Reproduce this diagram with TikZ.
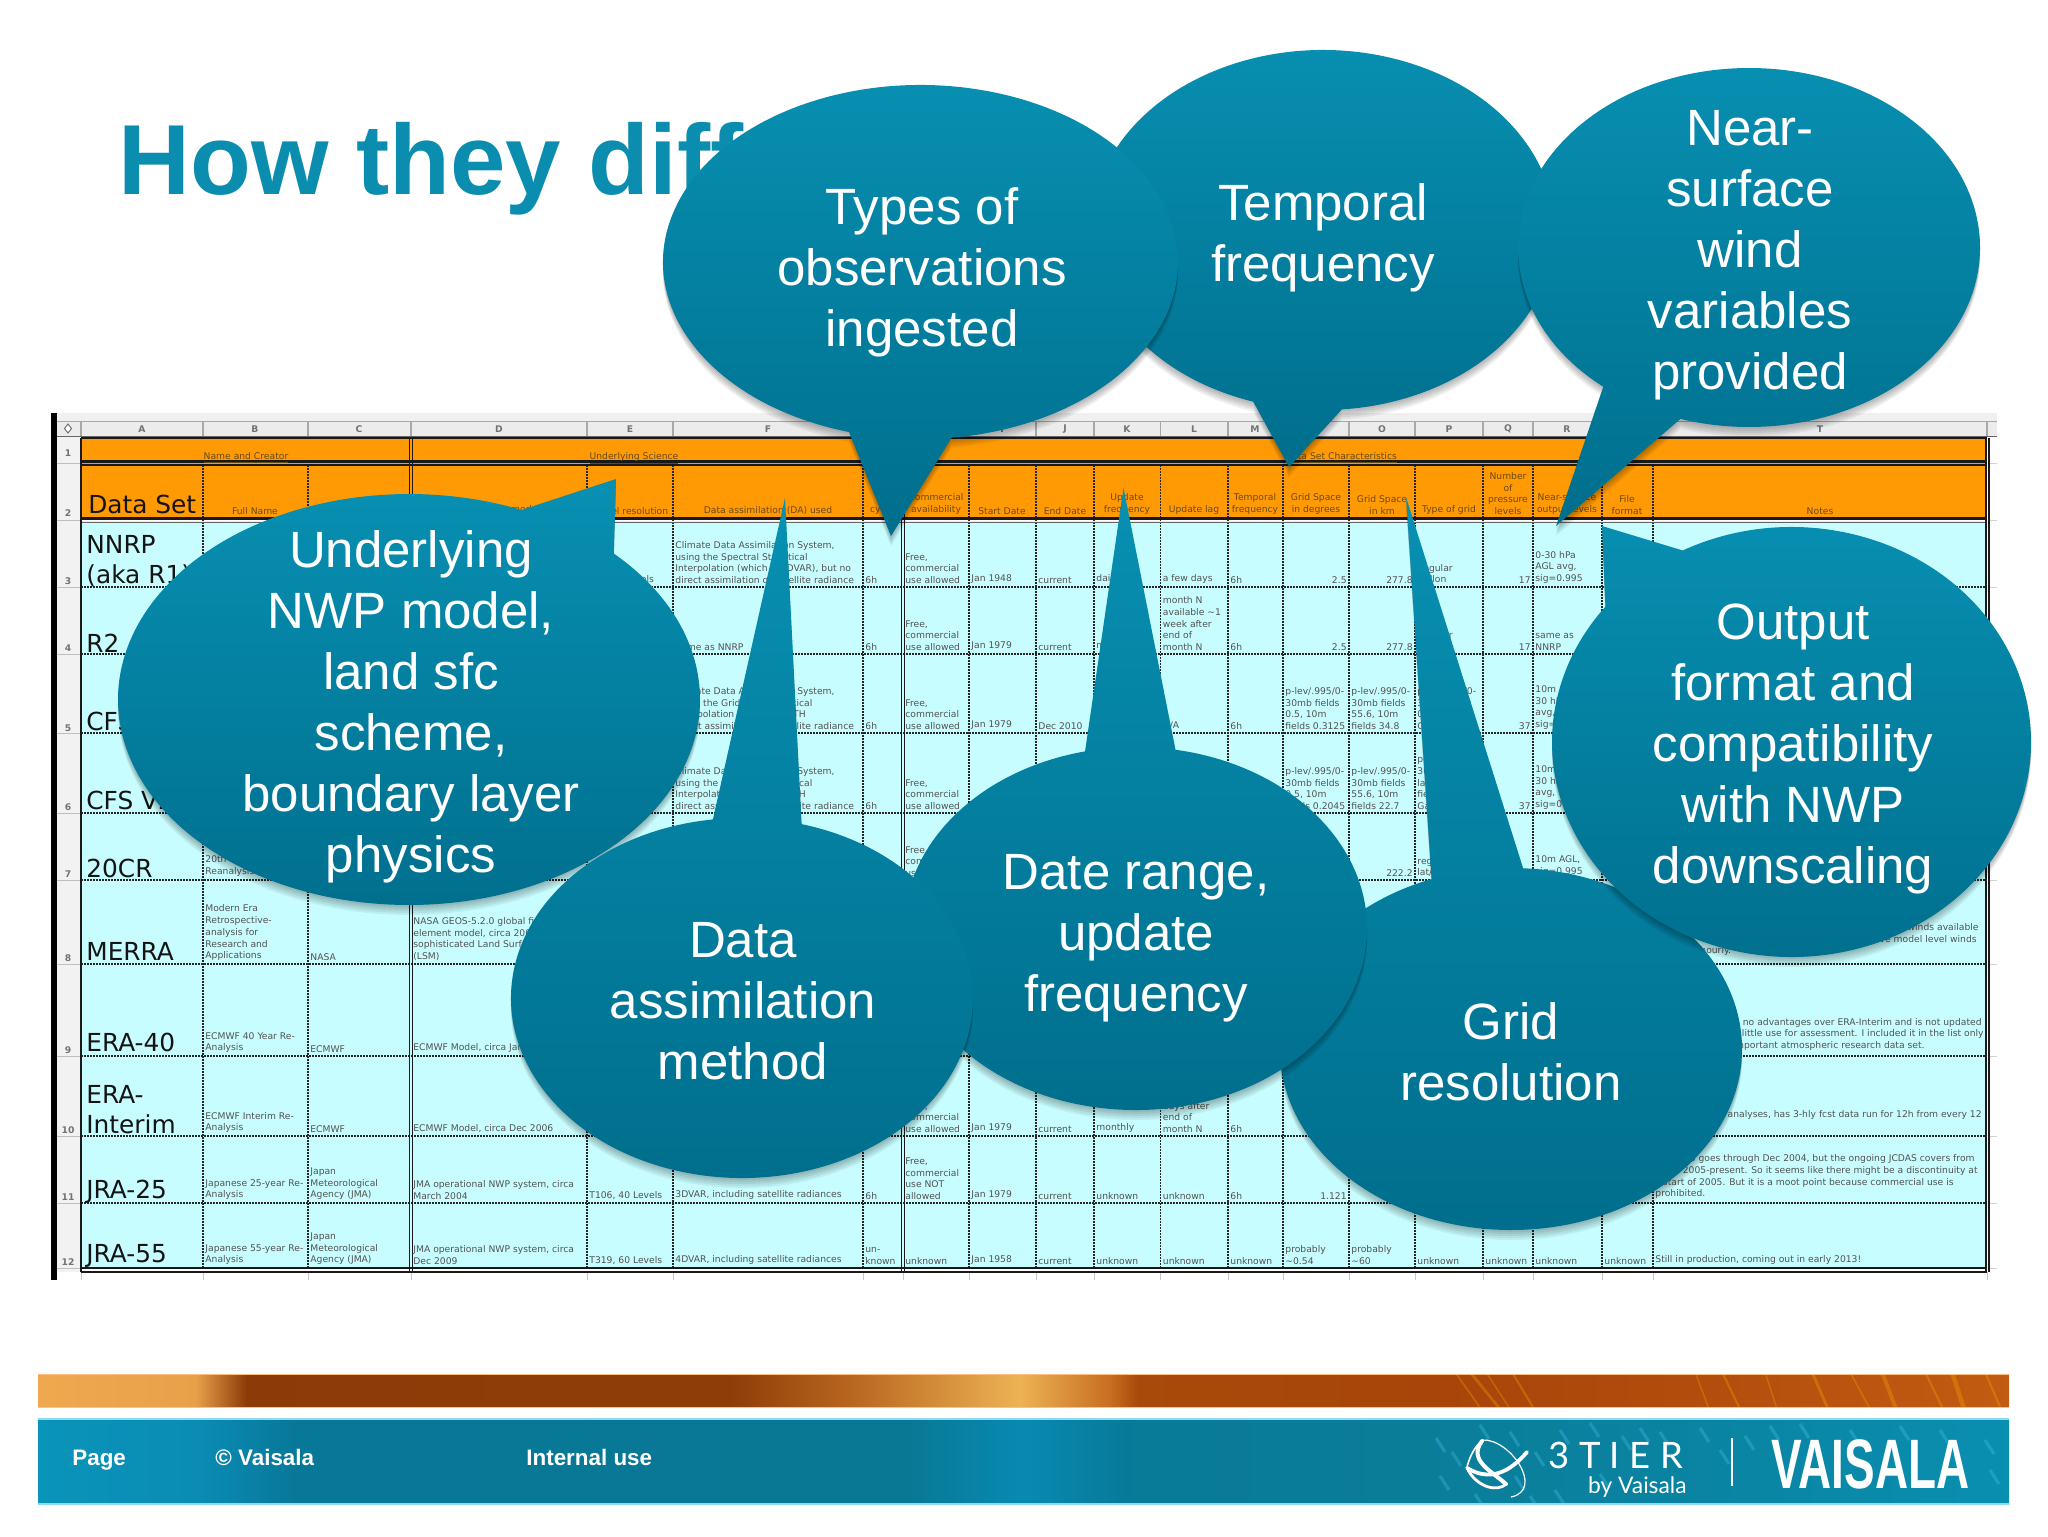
\documentclass[tikz,border=0pt]{standalone}
\usepackage{fontspec}
\setmainfont{Liberation Sans}
\newfontfamily\cellfont{DejaVu Sans}
\newfontfamily\logofont{Lato}
\definecolor{bubtop}{HTML}{0890B2}
\definecolor{bubbot}{HTML}{006E8D}
\definecolor{titleteal}{HTML}{0A8DAE}
\definecolor{cellcyan}{HTML}{C8FDFF}
\definecolor{hdrorange}{HTML}{FF9A05}
\definecolor{hdrtext}{HTML}{6A4A12}
\definecolor{sheetgray}{HTML}{ECECEC}
\definecolor{sheetline}{HTML}{A8A8A8}
\pgfdeclarehorizontalshading{orangebar}{100bp}{rgb(0bp)=(.94,.66,.31);rgb(25bp)=(.94,.66,.31);rgb(29bp)=(.91,.63,.29);rgb(30.3bp)=(.55,.23,.03);rgb(42.6bp)=(.56,.24,.03);rgb(45.6bp)=(.72,.40,.12);rgb(49.9bp)=(.93,.70,.33);rgb(52.2bp)=(.78,.43,.13);rgb(52.9bp)=(.66,.29,.04);rgb(60.5bp)=(.66,.27,.04);rgb(67.1bp)=(.70,.30,.05);rgb(75bp)=(.76,.36,.07);rgb(100bp)=(.76,.36,.07)}
\pgfdeclarehorizontalshading{tealbar}{100bp}{rgb(0bp)=(.04,.58,.73);rgb(25bp)=(.04,.58,.73);rgb(29bp)=(.04,.55,.71);rgb(31.5bp)=(.03,.47,.60);rgb(47bp)=(.03,.47,.58);rgb(50bp)=(.03,.54,.70);rgb(52.5bp)=(.03,.48,.60);rgb(60bp)=(.04,.49,.60);rgb(68bp)=(.04,.52,.64);rgb(75bp)=(.04,.56,.69);rgb(100bp)=(.04,.56,.69)}
\tikzset{
  bubbletext/.style={text=white,align=center,font=\fontsize{25.5}{30.5}\selectfont,inner sep=0},
  celltxt/.style={text=black!68,align=left,font=\cellfont\fontsize{4.6}{5.85}\selectfont,inner sep=0},
  hdrtxt/.style={text=hdrtext,align=center,font=\cellfont\fontsize{4.6}{5.85}\selectfont,inner sep=0},
  setname/.style={text=black!92,align=left,font=\cellfont\fontsize{12.4}{15}\selectfont,inner sep=0,anchor=south west},
  dotgrid/.style={black!85,line width=.6pt,dash pattern=on .75pt off .75pt},
  heavy/.style={black!90,line width=.65pt},
  shadowlayer/.style={black,opacity=.06},
  gutterlabel/.style={text=black!55,font=\cellfont\bfseries\fontsize{4.6}{5}\selectfont,inner sep=0},
  foottext/.style={text=white,font=\bfseries\fontsize{11.2}{13}\selectfont,inner sep=0,anchor=base west},
}
\newcounter{cc}
\newcommand{\cell}[3]{\stepcounter{cc}\node[celltxt,anchor=south west] (c\thecc) at ({#1+2},{#2-3}) {#3};}
\newcommand{\cellr}[3]{\stepcounter{cc}\node[celltxt,anchor=south east] (c\thecc) at ({#1-2},{#2-3}) {#3};}
\newcommand{\hdr}[2]{\stepcounter{cc}\node[hdrtxt,anchor=south] (c\thecc) at (#1,515) {#2};}
\newcommand{\setbase}[4]{\def\bAx{#1}\def\bAy{#2}\def\bBx{#3}\def\bBy{#4}}
% cx cy rx ry tipx tipy; bA = wedge end from which the arc leaves clockwise, bB = end where it returns
\newcommand{\bubble}[6]{%
  \pgfmathsetmacro\tA{atan2((\bAy-#2)/#4,(\bAx-#1)/#3)}%
  \pgfmathsetmacro\tB{atan2((\bBy-#2)/#4,(\bBx-#1)/#3)}%
  \pgfmathsetmacro\tE{\tB<\tA ? \tB+360 : \tB}%
  \pgfmathsetmacro\sx{#1+#3*cos(\tA)}\pgfmathsetmacro\sy{#2+#4*sin(\tA)}%
  \pgfmathsetmacro\ex{#1+#3*cos(\tB)}\pgfmathsetmacro\ey{#2+#4*sin(\tB)}%
  \def\bpath{(\ex,\ey) -- (#5,#6) -- (\sx,\sy) arc[start angle=\tA,end angle=\tE,x radius=#3,y radius=#4] -- cycle}%
  \foreach \dd in {2,4,6,8,10}{\fill[shadowlayer,shift={(0,\dd)}] \bpath;}%
  \shade[top color=bubtop,bottom color=bubbot] \bpath;%
}
\def\xA{81}\def\xB{203}\def\xC{308}\def\xD{411}\def\xE{587}\def\xF{673}\def\xG{863}\def\xH{903}\def\xI{969}\def\xJ{1036}\def\xK{1094}\def\xL{1160.5}\def\xM{1228}\def\xN{1283}\def\xO{1349}\def\xP{1415}\def\xQ{1483}\def\xR{1533}\def\xS{1602}\def\xT{1653}\def\xZ{1987}
\begin{document}
\begin{tikzpicture}[x=.5pt,y=-.5pt]
\useasboundingbox (0,0) rectangle (2048,1536);
\fill[white] (0,0) rectangle (2048,1536);
% title
\node[text=titleteal,font=\bfseries\fontsize{49.8}{60}\selectfont,inner sep=0,anchor=base west] (title) at (118,194) {How they diff};
% spreadsheet frame
\fill[black] (51,413) rectangle (56.5,1280);
\fill[black!6] (57,413) rectangle (1997,421);
\fill[sheetgray] (57,421) rectangle (1997,436);
\fill[black!5] (57,436) rectangle (81,1272);
\draw[sheetline,line width=.5pt] (57,421) -- (1997,421);
\draw[black!60,line width=.6pt] (57,436.5) -- (1997,436.5);
\foreach \xx in {\xA,\xB,\xC,\xD,\xE,\xF,\xG,\xH,\xI,\xJ,\xK,\xL,\xM,\xN,\xO,\xP,\xQ,\xR,\xS,\xT,\xZ}{
  \draw[sheetline,line width=.6pt] (\xx,421) -- (\xx,436);
  \draw[black!22,line width=.5pt] (\xx,1272) -- (\xx,1280);
}
\foreach \yy in {463,520,587,654,733,813,880,964,1056,1136,1203,1268}{
  \draw[black!25,line width=.4pt] (57,\yy) -- (81,\yy);
  \draw[black!18,line width=.4pt] (1990,\yy) -- (1997,\yy);
}
\foreach \xx/\lb in {142/A,255/B,359/C,499/D,630/E,768/F,883/G,936/H,1002/I,1065/J,1127/K,1194/L,1255/M,1316/N,1382/O,1449/P,1508/Q,1567/R,1627/S,1820/T}{
  \node[gutterlabel] (col\lb) at (\xx,429) {\lb};
}
\foreach \yy/\lb in {453/1,513/2,581/3,648/4,728/5,807/6,874/7,958/8,1050/9,1130/10,1197/11,1262/12}{
  \node[gutterlabel] (row\lb) at (68,\yy) {\lb};
}
\draw[black!55,line width=.5pt,fill=white] (68,424) -- (71.5,428.5) -- (68,433) -- (64.5,428.5) -- cycle;
% table fills
\fill[hdrorange] (81,438) rectangle (\xZ,518);
\fill[cellcyan] (81,521) rectangle (\xZ,1268);
% grid
\foreach \xx in {\xB,\xC,\xE,\xF,\xG,\xI,\xJ,\xK,\xL,\xM,\xN,\xO,\xP,\xQ,\xR,\xS,\xT}{
  \draw[dotgrid] (\xx,465) -- (\xx,1268);
}
\foreach \yy in {587,654,733,813,880,964,1056,1136,1203}{
  \draw[dotgrid] (81,\yy) -- (\xZ,\yy);
}
% heavy rules
\draw[heavy,line width=1.1pt] (81,438) -- (\xZ,438);
\draw[heavy,line width=1.1pt] (81,461.5) -- (\xZ,461.5);
\draw[heavy,line width=.9pt] (81,465) -- (\xZ,465);
\draw[heavy,line width=1.1pt] (81,518.5) -- (\xZ,518.5);
\draw[black!60,line width=.6pt] (81,522.5) -- (\xZ,522.5);
\draw[heavy] (81,1268) -- (\xZ,1268);
\draw[heavy] (81,1272) -- (\xZ,1272);
\foreach \xx in {81,409.5,412.5,901.5,904.5,1986,1989}{\draw[heavy] (\xx,438) -- (\xx,1272);}
% row 1, row 2 text
\node[hdrtxt,anchor=base] (h1) at (246,459) {\underline{Name and Creator}};
\node[hdrtxt,anchor=base] (h2) at (634,459) {\underline{Underlying Science}};
\node[hdrtxt,anchor=base] (h3) at (1341,459) {\underline{Data Set Characteristics}};
\hdr{255}{Full Name}
\hdr{499}{Underlying model}
\hdr{630}{Model resolution}
\hdr{768}{Data assimilation (DA) used}
\hdr{882}{cycle}
\hdr{936}{Commercial\\availability}
\hdr{1002}{Start Date}
\hdr{1065}{End Date}
\hdr{1127}{Update\\frequency}
\hdr{1194}{Update lag}
\hdr{1255}{Temporal\\frequency}
\hdr{1316}{Grid Space\\in degrees}
\hdr{1382}{Grid Space\\in km}
\hdr{1449}{Type of grid}
\hdr{1508}{Number\\of\\pressure\\levels}
\hdr{1567}{Near-surface\\output levels}
\hdr{1627}{File\\format}
\hdr{1820}{Notes}
% data set names
\node[setname] (sDS) at (88,514) {Data Set};
\node[setname] (s3) at (86,587) {NNRP\\(aka R1)};
\node[setname] (s4) at (86,653) {R2};
\node[setname] (s5) at (86,731) {CFSR};
\node[setname] (s6) at (86,810) {CFS V2};
\node[setname] (s7) at (86,878) {20CR};
\node[setname] (s8) at (86,961) {MERRA};
\node[setname] (s9) at (86,1052) {ERA-40};
\node[setname] (s10) at (86,1134) {ERA-\\Interim};
\node[setname] (s11) at (86,1204) {JRA-25};
\node[setname] (s12) at (86,1268) {JRA-55};
% row 3
\cell{\xE}{587}{T62, 28 levels}
\cell{\xF}{587}{Climate Data Assimilation System,\\using the Spectral Statistical\\Interpolation (which is 3DVAR), but no\\direct assimilation of satellite radiance}
\cell{\xG}{587}{6h}
\cell{\xH}{587}{Free,\\commercial\\use allowed}
\cell{\xI}{587}{Jan 1948}
\cell{\xJ}{587}{current}
\cell{\xK}{587}{daily}
\cell{\xL}{587}{a few days}
\cell{\xM}{587}{6h}
\cellr{\xO}{587}{2.5}
\cellr{\xP}{587}{277.8}
\cell{\xP}{587}{Regular\\lat/lon}
\cellr{\xR}{587}{17}
\cell{\xR}{587}{0-30 hPa\\AGL avg,\\sig=0.995}
% row 4
\cell{\xF}{654}{Same as NNRP}
\cell{\xG}{654}{6h}
\cell{\xH}{654}{Free,\\commercial\\use allowed}
\cell{\xI}{654}{Jan 1979}
\cell{\xJ}{654}{current}
\cell{\xK}{654}{monthly}
\cell{\xL}{654}{month N\\available \textasciitilde1\\week after\\end of\\month N}
\cell{\xM}{654}{6h}
\cellr{\xO}{654}{2.5}
\cellr{\xP}{654}{277.8}
\cell{\xP}{654}{Regular\\lat/lon}
\cellr{\xR}{654}{17}
\cell{\xR}{654}{same as\\NNRP}
% row 5
\cell{\xF}{733}{Climate Data Assimilation System,\\using the Gridpoint Statistical\\Interpolation (3DVAR), WITH\\direct assimilation of satellite radiance}
\cell{\xG}{733}{6h}
\cell{\xH}{733}{Free,\\commercial\\use allowed}
\cell{\xI}{733}{Jan 1979}
\cell{\xJ}{733}{Dec 2010}
\cell{\xL}{733}{N/A}
\cell{\xM}{733}{6h}
\cell{\xN}{733}{p-lev/.995/0-\\30mb fields\\0.5, 10m\\fields 0.3125}
\cell{\xO}{733}{p-lev/.995/0-\\30mb fields\\55.6, 10m\\fields 34.8}
\cell{\xP}{733}{p-lev/.995/0-\\30mb fields\\0.5, 10m\\Gaussian}
\cellr{\xR}{733}{37}
\cell{\xR}{733}{10m\\30 hPa\\avg,\\sig=0.995}
% row 6
\cell{\xF}{813}{Climate Data Assimilation System,\\using the Gridpoint Statistical\\Interpolation (3DVAR), WITH\\direct assimilation of satellite radiance}
\cell{\xG}{813}{6h}
\cell{\xH}{813}{Free,\\commercial\\use allowed}
\cell{\xN}{813}{p-lev/.995/0-\\30mb fields\\0.5, 10m\\fields 0.2045}
\cell{\xO}{813}{p-lev/.995/0-\\30mb fields\\55.6, 10m\\fields 22.7}
\cell{\xP}{813}{p-lev/.995/0-\\30mb fields\\lat/lon\\fields\\Gaussian}
\cellr{\xR}{813}{37}
\cell{\xR}{813}{10m\\30 hPa\\avg,\\sig=0.995}
% row 7
\cell{\xB}{880}{20th Century\\Reanalysis}
\cell{\xH}{880}{Free,\\commercial\\use allowed}
\cellr{\xP}{880}{222.2}
\cell{\xP}{880}{regular\\lat/lon}
\cell{\xR}{880}{10m AGL,\\sig=0.995}
% row 8
\cell{\xB}{964}{Modern Era\\Retrospective-\\analysis for\\Research and\\Applications}
\cell{\xC}{964}{NASA}
\cell{\xD}{964}{NASA GEOS-5.2.0 global finite\\element model, circa 2008, with\\sophisticated Land Surface Model\\(LSM)}
\node[celltxt,anchor=east] (t8a) at (1979,927) {offers native winds available};
\node[celltxt,anchor=east] (t8b) at (1977,939) {and native model level winds};
\node[celltxt,anchor=west] (t8c) at (1700,951) {hourly.};
% row 9
\cell{\xB}{1056}{ECMWF 40 Year Re-\\Analysis}
\cell{\xC}{1056}{ECMWF}
\cell{\xD}{1056}{ECMWF Model, circa Jan 2001}
\node[celltxt,anchor=east] (t9a) at (1982,1023) {has no advantages over ERA-Interim and is not updated};
\node[celltxt,anchor=east] (t9b) at (1984,1034) {of little use for assessment.  I included it in the list only};
\node[celltxt,anchor=east] (t9c) at (1925,1046) {an important atmospheric research data set.};
% row 10
\cell{\xB}{1136}{ECMWF Interim Re-\\Analysis}
\cell{\xC}{1136}{ECMWF}
\cell{\xD}{1136}{ECMWF Model, circa Dec 2006}
\cell{\xH}{1136}{Free,\\commercial\\use allowed}
\cell{\xI}{1136}{Jan 1979}
\cell{\xJ}{1136}{current}
\cell{\xK}{1136}{monthly}
\cell{\xL}{1136}{days after\\end of\\month N}
\cell{\xM}{1136}{6h}
\node[celltxt,anchor=east] (t10) at (1982,1115) {analyses, has 3-hly fcst data run for 12h from every 12};
% row 11
\cell{\xB}{1203}{Japanese 25-year Re-\\Analysis}
\cell{\xC}{1203}{Japan\\Meteorological\\Agency (JMA)}
\cell{\xD}{1203}{JMA operational NWP system, circa\\March 2004}
\cell{\xE}{1203}{T106, 40 Levels}
\cell{\xF}{1203}{3DVAR, including satellite radiances}
\cell{\xG}{1203}{6h}
\cell{\xH}{1203}{Free,\\commercial\\use NOT\\allowed}
\cell{\xI}{1203}{Jan 1979}
\cell{\xJ}{1203}{current}
\cell{\xK}{1203}{unknown}
\cell{\xL}{1203}{unknown}
\cell{\xM}{1203}{6h}
\cellr{\xO}{1203}{1.121}
\node[celltxt,anchor=east] (t11a) at (1975,1159) {JRA-25 goes through Dec 2004, but the ongoing JCDAS covers from};
\node[celltxt,anchor=east] (t11b) at (1978,1171) {2005-present.  So it seems like there might be a discontinuity at};
\node[celltxt,anchor=east] (t11c) at (1954,1183) {start of 2005.  But it is a moot point because commercial use is};
\node[celltxt,anchor=west] (t11d) at (1655,1194) {prohibited.};
% row 12
\cell{\xB}{1268}{Japanese 55-year Re-\\Analysis}
\cell{\xC}{1268}{Japan\\Meteorological\\Agency (JMA)}
\cell{\xD}{1268}{JMA operational NWP system, circa\\Dec 2009}
\cell{\xE}{1268}{T319, 60 Levels}
\cell{\xF}{1268}{4DVAR, including satellite radiances}
\cell{\xG}{1268}{un-\\known}
\cell{\xH}{1268}{unknown}
\cell{\xI}{1268}{Jan 1958}
\cell{\xJ}{1268}{current}
\cell{\xK}{1268}{unknown}
\cell{\xL}{1268}{unknown}
\cell{\xM}{1268}{unknown}
\cell{\xN}{1268}{probably\\\textasciitilde0.54}
\cell{\xO}{1268}{probably\\\textasciitilde60}
\cell{\xP}{1268}{unknown}
\cell{\xQ}{1268}{unknown}
\cell{\xR}{1268}{unknown}
\cell{\xS}{1268}{unknown}
\cell{\xT}{1268}{Still in production, coming out in early 2013!}
% footer bars
\shade[shading=orangebar] (38,1374) rectangle (2009,1407);
\begin{scope}
  \clip (38,1374) rectangle (2009,1407);
  \foreach \xx/\ww/\lean in {1455/.8/26,1470/1.3/30,1486/.7/24,1512/1/22,1695/.7/14,1722/1/18,1765/.7/12,1812/1.4/16,1850/.8/20,1882/2/14,1925/1/18,1952/2.2/12,1985/1/16}{
    \draw[orange!70!yellow,opacity=.32,line width=\ww pt] (\xx,1372) -- (\xx+\lean,1409);
  }
\end{scope}
\draw[orange!50!white,line width=.5pt] (38,1374) -- (2009,1374) (38,1407) -- (2009,1407);
\shade[shading=tealbar] (38,1419) rectangle (2009,1504);
\begin{scope}
  \clip (38,1419) rectangle (2009,1504);
  \foreach \xx/\yy in {1436/1438,1452/1452,1440/1476,1475/1494,1510/1432,1535/1452,1515/1476,1560/1430,1590/1423,1622/1436,1640/1428,1600/1474,1660/1432,1700/1428,1745/1436,1720/1450,1770/1426,1800/1424,1850/1430,1900/1426,1940/1430,1985/1440,1990/1470,1530/1496,1480/1425,1555/1490}{
    \draw[cyan!70!white,opacity=.3,line width=1.6pt] (\xx,\yy) -- (\xx+9,\yy+14);
  }
\end{scope}
\draw[cyan!45!white,line width=.7pt] (38,1419) -- (2009,1419) (38,1504) -- (2009,1504);
\node[foottext] (fpage) at (72,1465) {Page};
\node[foottext] (fvais) at (215,1465) {© Vaisala};
\node[foottext] (fint) at (526,1465) {Internal use};
% 3TIER logo
\draw[white,line width=1.9pt,line cap=round] (1467,1468) .. controls (1490,1482) and (1510,1472) .. (1527,1452);
\draw[white,line width=2pt,line cap=round] (1482,1441) .. controls (1468,1460) and (1490,1470) .. (1506,1484);
\draw[white,line width=.6pt] (1482,1440) .. controls (1510,1438) and (1545,1490) .. (1511,1497);
\draw[white,line width=1.4pt,line cap=round] (1468,1470) .. controls (1478,1488) and (1498,1492) .. (1506,1484);
\draw[white,line width=.8pt] (1467,1467) .. controls (1470,1455) and (1476,1445) .. (1482,1441);
\node[text=white,font=\logofont\addfontfeatures{LetterSpace=26}\fontsize{18.2}{20}\selectfont,inner sep=0,anchor=base west] (l3t) at (1548,1468) {3TIER};
\node[text=white,font=\logofont\fontsize{11.4}{13}\selectfont,inner sep=0,anchor=base east] (lby) at (1687,1493) {by Vaisala};
\draw[white,line width=.8pt] (1732,1438) -- (1732,1486);
\node[text=white,font=\bfseries\fontsize{35}{38}\selectfont,inner sep=0,anchor=base west] (lv) at (1771,1488) {\scalebox{.655}[1]{VAISALA}};
% call-outs
\setbase{1253}{402}{1342}{410}
\bubble{1323}{230}{232}{180}{1289}{467}
\node[bubbletext] (btemp) at (1323,238) {Temporal\\frequency};
\setbase{1603}{387}{1680}{420}
\bubble{1749}{247.5}{231}{179.5}{1556}{526}
\node[bubbletext] (bnear) at (1750,255) {Near-\\surface\\wind\\variables\\provided};
\setbase{849}{432}{952}{440}
\bubble{920.5}{262}{257.5}{177}{891}{536}
\node[bubbletext] (btype) at (922,272) {Types of\\observations\\ingested};
\setbase{1523}{870}{1432}{880}
\bubble{1511}{1049}{231}{181}{1406}{497}
\node[bubbletext] (bgrid) at (1511,1052) {Grid\\resolution};
\setbase{1175}{752}{1085.5}{753}
\bubble{1135.5}{928.5}{231.5}{181.5}{1123.5}{488}
\node[bubbletext] (bdate) at (1136,938) {Date range,\\update\\frequency};
\setbase{614.5}{553}{522}{509}
\bubble{409}{699.5}{291}{205.5}{616}{479}
\node[bubbletext] (bund) at (411,707) {Underlying\\NWP model,\\land sfc\\scheme,\\boundary layer\\physics};
\setbase{802}{823}{713}{820}
\bubble{742}{998}{231}{180}{785}{498}
\node[bubbletext] (bdata) at (743,1001) {Data\\assimilation\\method};
\setbase{1683}{551}{1610}{610}
\bubble{1791.5}{742}{239.5}{215}{1602}{526}
\node[bubbletext] (bout) at (1793,749) {Output\\format and\\compatibility\\with NWP\\downscaling};
\end{tikzpicture}
\end{document}
